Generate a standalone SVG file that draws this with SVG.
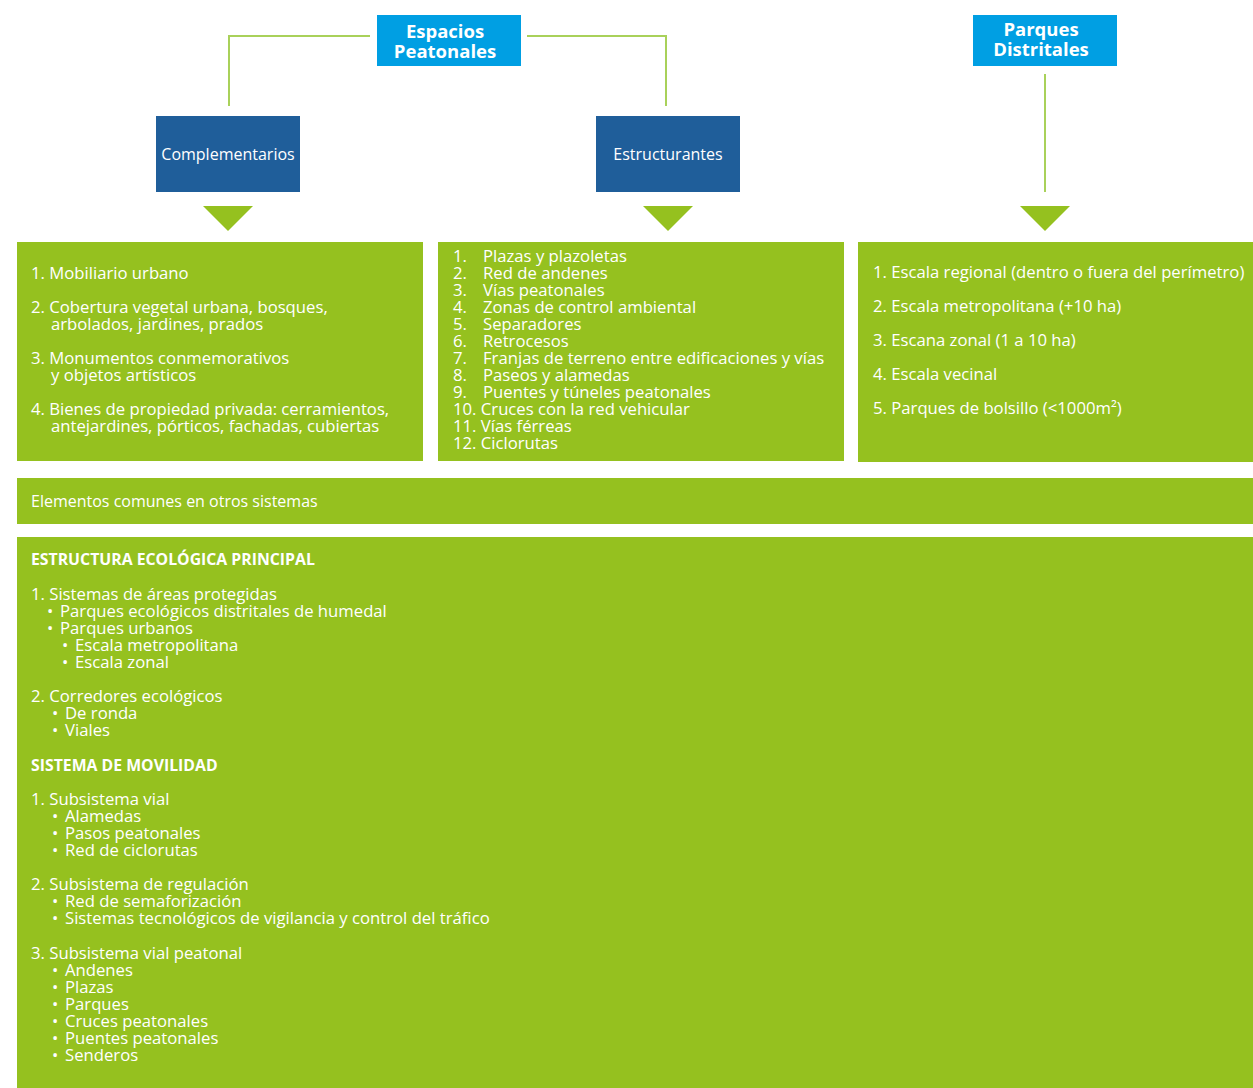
<svg xmlns="http://www.w3.org/2000/svg" width="1253" height="1088" viewBox="0 0 1253 1088">
<style>
.t{font-family:"Open Sans","DejaVu Sans",sans-serif;font-size:16.7px;fill:#fff}
.s{font-size:16px}
.b{font-weight:bold;font-size:15.8px}
.h{font-family:"Open Sans","DejaVu Sans",sans-serif;font-size:18.5px;font-weight:bold;fill:#fff;text-anchor:middle}
.blue{fill:#009FE3}
.dark{fill:#1F5E9A}
.green{fill:#95C11F}
.ln{stroke:#A9D15A;stroke-width:2;fill:none}
.m{text-anchor:middle}
</style>
<rect width="1253" height="1088" fill="#fff"/>
<g id="connectors">
<polyline class="ln" points="370,36 229,36 229,106"/>
<polyline class="ln" points="527,36 666,36 666,106"/>
<line class="ln" x1="1045" y1="74" x2="1045" y2="192"/>
<polygon class="green" points="203,206 253,206 228,231"/>
<polygon class="green" points="643,206 693,206 668,231"/>
<polygon class="green" points="1020,206 1070,206 1045,231"/>
</g>
<g id="espacios-peatonales">
<rect class="blue" x="377" y="15" width="144" height="51"/>
<text class="h" x="445" y="38">Espacios</text>
<text class="h" x="445" y="58">Peatonales</text>
</g>
<g id="parques-distritales">
<rect class="blue" x="973" y="15" width="144" height="51"/>
<text class="h" x="1041" y="36">Parques</text>
<text class="h" x="1041" y="56">Distritales</text>
</g>
<g id="complementarios">
<rect class="dark" x="156" y="116" width="144" height="76"/>
<text class="t s m" x="228" y="160">Complementarios</text>
</g>
<g id="estructurantes">
<rect class="dark" x="596" y="116" width="144" height="76"/>
<text class="t s m" x="668" y="160">Estructurantes</text>
</g>
<g id="lista-complementarios">
<rect class="green" x="17" y="242" width="406" height="219"/>
<text class="t" x="31" y="279">1. Mobiliario urbano</text>
<text class="t" x="31" y="313">2. Cobertura vegetal urbana, bosques,</text>
<text class="t" x="51" y="330">arbolados, jardines, prados</text>
<text class="t" x="31" y="364">3. Monumentos conmemorativos</text>
<text class="t" x="51" y="381">y objetos artísticos</text>
<text class="t" x="31" y="415">4. Bienes de propiedad privada: cerramientos,</text>
<text class="t" x="51" y="432">antejardines, pórticos, fachadas, cubiertas</text>
</g>
<g id="lista-estructurantes">
<rect class="green" x="438" y="242" width="406" height="219"/>
<text class="t" x="453" y="262">1.</text><text class="t" x="483" y="262">Plazas y plazoletas</text>
<text class="t" x="453" y="279">2.</text><text class="t" x="483" y="279">Red de andenes</text>
<text class="t" x="453" y="296">3.</text><text class="t" x="483" y="296">Vías peatonales</text>
<text class="t" x="453" y="313">4.</text><text class="t" x="483" y="313">Zonas de control ambiental</text>
<text class="t" x="453" y="330">5.</text><text class="t" x="483" y="330">Separadores</text>
<text class="t" x="453" y="347">6.</text><text class="t" x="483" y="347">Retrocesos</text>
<text class="t" x="453" y="364">7.</text><text class="t" x="483" y="364">Franjas de terreno entre edificaciones y vías</text>
<text class="t" x="453" y="381">8.</text><text class="t" x="483" y="381">Paseos y alamedas</text>
<text class="t" x="453" y="398">9.</text><text class="t" x="483" y="398">Puentes y túneles peatonales</text>
<text class="t" x="453" y="415">10. Cruces con la red vehicular</text>
<text class="t" x="453" y="432">11. Vías férreas</text>
<text class="t" x="453" y="449">12. Ciclorutas</text>
</g>
<g id="lista-parques">
<rect class="green" x="858" y="242" width="395" height="220"/>
<text class="t" x="873" y="278">1. Escala regional (dentro o fuera del perímetro)</text>
<text class="t" x="873" y="312">2. Escala metropolitana (+10 ha)</text>
<text class="t" x="873" y="346">3. Escana zonal (1 a 10 ha)</text>
<text class="t" x="873" y="380">4. Escala vecinal</text>
<text class="t" x="873" y="414">5. Parques de bolsillo (&lt;1000m²)</text>
</g>
<g id="elementos-comunes">
<rect class="green" x="17" y="478" width="1236" height="46"/>
<text class="t s" x="31" y="507">Elementos comunes en otros sistemas</text>
</g>
<g id="sistemas">
<rect class="green" x="17" y="537" width="1236" height="551"/>
<text class="t b" x="31" y="565">ESTRUCTURA ECOLÓGICA PRINCIPAL</text>
<text class="t" x="31" y="600">1. Sistemas de áreas protegidas</text>
<text class="t" x="47" y="617">•</text><text class="t" x="60" y="617">Parques ecológicos distritales de humedal</text>
<text class="t" x="47" y="634">•</text><text class="t" x="60" y="634">Parques urbanos</text>
<text class="t" x="62" y="651">•</text><text class="t" x="75" y="651">Escala metropolitana</text>
<text class="t" x="62" y="668">•</text><text class="t" x="75" y="668">Escala zonal</text>
<text class="t" x="31" y="702">2. Corredores ecológicos</text>
<text class="t" x="52" y="719">•</text><text class="t" x="65" y="719">De ronda</text>
<text class="t" x="52" y="736">•</text><text class="t" x="65" y="736">Viales</text>
<text class="t b" x="31" y="771">SISTEMA DE MOVILIDAD</text>
<text class="t" x="31" y="805">1. Subsistema vial</text>
<text class="t" x="52" y="822">•</text><text class="t" x="65" y="822">Alamedas</text>
<text class="t" x="52" y="839">•</text><text class="t" x="65" y="839">Pasos peatonales</text>
<text class="t" x="52" y="856">•</text><text class="t" x="65" y="856">Red de ciclorutas</text>
<text class="t" x="31" y="890">2. Subsistema de regulación</text>
<text class="t" x="52" y="907">•</text><text class="t" x="65" y="907">Red de semaforización</text>
<text class="t" x="52" y="924">•</text><text class="t" x="65" y="924">Sistemas tecnológicos de vigilancia y control del tráfico</text>
<text class="t" x="31" y="959">3. Subsistema vial peatonal</text>
<text class="t" x="52" y="976">•</text><text class="t" x="65" y="976">Andenes</text>
<text class="t" x="52" y="993">•</text><text class="t" x="65" y="993">Plazas</text>
<text class="t" x="52" y="1010">•</text><text class="t" x="65" y="1010">Parques</text>
<text class="t" x="52" y="1027">•</text><text class="t" x="65" y="1027">Cruces peatonales</text>
<text class="t" x="52" y="1044">•</text><text class="t" x="65" y="1044">Puentes peatonales</text>
<text class="t" x="52" y="1061">•</text><text class="t" x="65" y="1061">Senderos</text>
</g>
</svg>
